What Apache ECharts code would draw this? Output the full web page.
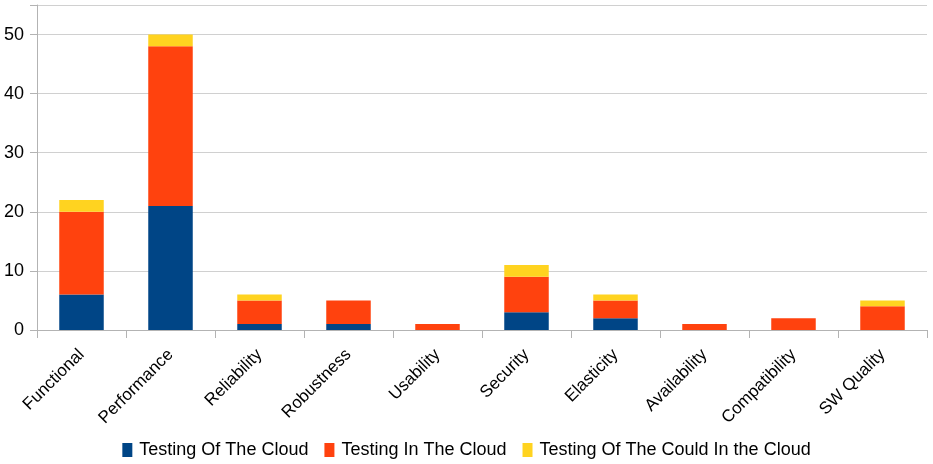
<!DOCTYPE html>
<html><head><meta charset="utf-8">
<script src="https://cdn.jsdelivr.net/npm/echarts@6/dist/echarts.min.js"></script>
<style>html,body{margin:0;padding:0;background:#fff}#c{width:933px;height:464px}</style>
</head><body><div id="c"></div>
<script>
const categories = ['Functional','Performance','Reliability','Robustness','Usability','Security','Elasticity','Availability','Compatibility','SW Quality'];
const testingOfCloud = [6,21,1,1,0,3,2,0,0,0];
const testingInCloud = [14,27,4,4,1,6,3,1,2,4];
const testingOfCouldInCloud = [2,2,1,0,0,2,1,0,0,1];
const yTicks = [0,10,20,30,40,50];
const seriesNames = ['Testing Of The Cloud','Testing In The Cloud','Testing Of The Could In the Cloud'];
const colors = ['#004586','#ff420e','#ffd320'];
const font = 'Liberation Sans, Arial, sans-serif';
const chart = echarts.init(document.getElementById('c'));
const mk = (name, data, c) => ({name, type:'bar', stack:'a', data, barWidth:'50%', itemStyle:{color:c}, emphasis:{disabled:true}});
chart.setOption({
  animation:false,
  color:colors,
  grid:{left:37,right:6,top:5,bottom:134,containLabel:false},
  legend:{bottom:0,left:'center',itemWidth:10,itemHeight:14,itemGap:16,icon:'rect',
    textStyle:{fontFamily:font,fontSize:18,color:'#000',padding:[0,0,0,2]},data:seriesNames},
  xAxis:{type:'category',data:categories,
    axisLine:{lineStyle:{color:'#b3b3b3'}},
    axisTick:{show:true,length:8,lineStyle:{color:'#b3b3b3'}},
    axisLabel:{rotate:45,fontFamily:font,fontSize:17,color:'#000',margin:22,interval:0}},
  yAxis:{type:'value',min:0,max:55,interval:10,
    axisLine:{show:true,lineStyle:{color:'#b3b3b3'}},
    axisTick:{show:true,length:7,lineStyle:{color:'#b3b3b3'}},
    splitLine:{lineStyle:{color:'#d0d0d0'}},
    axisLabel:{fontFamily:font,fontSize:18,color:'#000',margin:13,
      formatter:v=>yTicks.includes(v)?String(v):''}},
  series:[mk(seriesNames[0],testingOfCloud,colors[0]),mk(seriesNames[1],testingInCloud,colors[1]),mk(seriesNames[2],testingOfCouldInCloud,colors[2])]
});
</script></body></html>
